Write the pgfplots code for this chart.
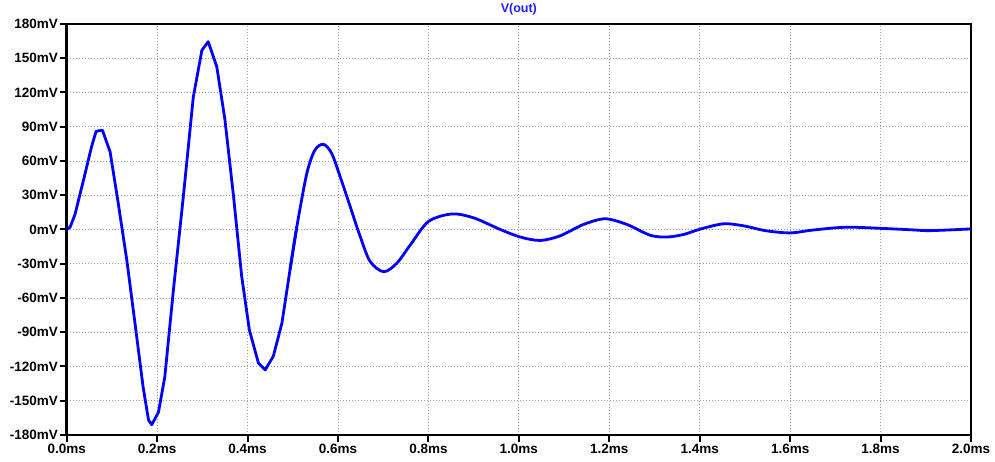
\documentclass[border=0pt]{standalone}
\usepackage{pgfplots}
\pgfplotsset{compat=1.18}
\usepackage{fontspec}
\setmainfont{Liberation Sans}
\begin{document}
\begin{tikzpicture}
\useasboundingbox (-66.7pt,-27pt) rectangle (928.3pt,435pt);
\begin{axis}[
  scale only axis,
  width=904.3pt, height=411pt,
  xmin=0, xmax=2, ymin=-180, ymax=180,
  xtick={0,0.2,0.4,0.6,0.8,1.0,1.2,1.4,1.6,1.8,2.0},
  xticklabels={0.0ms,0.2ms,0.4ms,0.6ms,0.8ms,1.0ms,1.2ms,1.4ms,1.6ms,1.8ms,2.0ms},
  ytick={-180,-150,-120,-90,-60,-30,0,30,60,90,120,150,180},
  yticklabels={-180mV,-150mV,-120mV,-90mV,-60mV,-30mV,0mV,30mV,60mV,90mV,120mV,150mV,180mV},
  tick label style={font=\fontsize{13.5}{15}\selectfont\bfseries, text=black},
  xticklabel style={inner sep=1pt, yshift=-1pt},
  yticklabel style={inner sep=1.5pt},
  tick align=outside,
  xtick pos=bottom, ytick pos=left,
  major tick length=7pt,
  tick style={black, line width=2pt},
  axis line style={black, line width=2.6pt},
  grid=major,
  grid style={gray!75, line width=0.9pt, dash pattern=on 1.2pt off 1.8pt},
  title={V(out)},
  title style={at={(0.5,1)}, anchor=base, yshift=5pt, font=\fontsize{12.5}{14}\selectfont\bfseries, text={rgb,255:red,30;green,30;blue,255}},
  clip=true,
]
\addplot[color={rgb,255:red,0;green,0;blue,255}, line width=2.8pt, line join=round] coordinates {
(0,0) (0.0074,2) (0.018,12.7) (0.037,43) (0.055,72.5) (0.065,86) (0.079,87)
(0.096,68) (0.114,23) (0.133,-27) (0.151,-82) (0.169,-138) (0.181,-167)
(0.188,-171) (0.203,-160) (0.217,-129) (0.236,-53) (0.258,29) (0.28,116)
(0.299,157) (0.313,164.5) (0.332,142.5) (0.35,96) (0.369,29) (0.387,-41)
(0.404,-88) (0.424,-117) (0.439,-123) (0.457,-111) (0.476,-82) (0.494,-35)
(0.509,2.5)
};
\addplot[color={rgb,255:red,0;green,0;blue,255}, line width=2.8pt, line join=round, smooth, tension=0.5] coordinates {
(0.494,-35) (0.509,2.5) (0.531,49) (0.549,69.6) (0.568,74.6) (0.586,66.7) (0.605,46)
(0.627,20) (0.649,-6) (0.671,-28) (0.701,-37) (0.73,-29.6) (0.76,-13.5)
(0.8,7) (0.852,13.6) (0.9,10.2) (0.959,0) (1.003,-6.6) (1.047,-9.6)
(1.091,-5.6) (1.143,4.4) (1.191,9.4) (1.239,4.4) (1.29,-5) (1.327,-6.6)
(1.364,-4.4) (1.401,0.3) (1.453,5) (1.5,3) (1.545,-1) (1.6,-3) (1.65,-0.5)
(1.723,2) (1.8,1) (1.87,-0.3) (1.91,-1) (2.0,0.5)
};
\end{axis}
\end{tikzpicture}
\end{document}
